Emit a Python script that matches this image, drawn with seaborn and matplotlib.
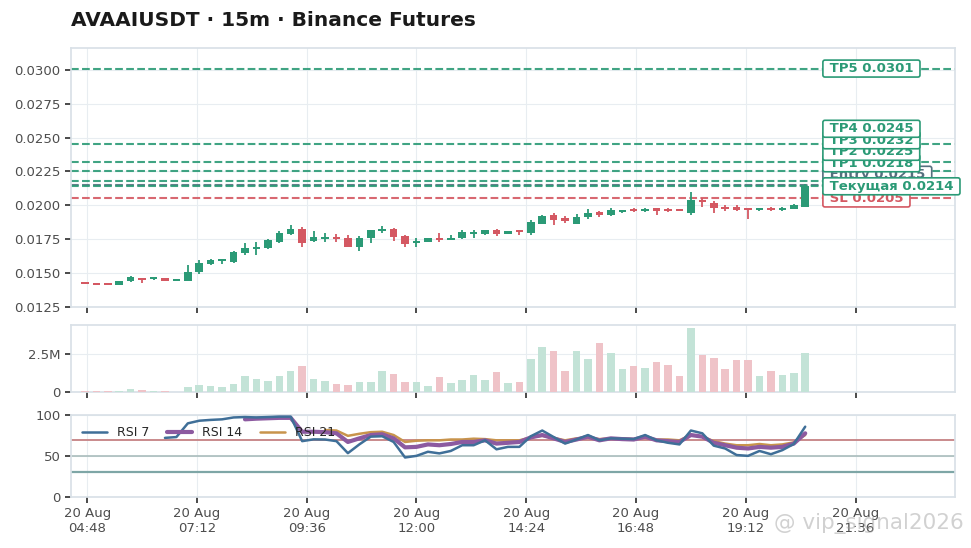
import numpy as np
import pandas as pd
import seaborn as sns
import matplotlib
matplotlib.use("Agg")
import matplotlib.pyplot as plt
import matplotlib.dates as mdates
from matplotlib.ticker import FixedLocator, FuncFormatter, MultipleLocator

# ---------------- data ----------------
symbol = "AVAAIUSDT"
timeframe = "15m"
exchange = "Binance Futures"
start_time = "2025-08-20 04:45"

opens = [0.01421, 0.01413, 0.01413, 0.01410, 0.01438, 0.01462, 0.01452, 0.01462,
         0.01442, 0.01443, 0.01510, 0.01564, 0.01590, 0.01583, 0.01649, 0.01676,
         0.01681, 0.01730, 0.01787, 0.01824, 0.01735, 0.01750, 0.01767, 0.01760,
         0.01694, 0.01755, 0.01811, 0.01824, 0.01774, 0.01718, 0.01730, 0.01760,
         0.01743, 0.01760, 0.01784, 0.01790, 0.01818, 0.01790, 0.01808, 0.01792,
         0.01865, 0.01926, 0.01902, 0.01865, 0.01914, 0.01950, 0.01926, 0.01952,
         0.01968, 0.01958, 0.01977, 0.01970, 0.01965, 0.01939, 0.02042, 0.02020,
         0.01988, 0.01985, 0.01975, 0.01962, 0.01978, 0.01968, 0.01975, 0.01988]
highs = [0.01423, 0.01414, 0.01414, 0.01442, 0.01480, 0.01465, 0.01458, 0.01464,
         0.01445, 0.01558, 0.01596, 0.01600, 0.01602, 0.01660, 0.01718, 0.01725,
         0.01750, 0.01809, 0.01853, 0.01841, 0.01809, 0.01792, 0.01790, 0.01779,
         0.01770, 0.01820, 0.01848, 0.01830, 0.01780, 0.01755, 0.01760, 0.01792,
         0.01780, 0.01816, 0.01820, 0.01820, 0.01822, 0.01812, 0.01810, 0.01890,
         0.01930, 0.01940, 0.01920, 0.01935, 0.01970, 0.01960, 0.01980, 0.01962,
         0.01980, 0.01978, 0.01980, 0.01980, 0.01968, 0.02098, 0.02050, 0.02030,
         0.02005, 0.02000, 0.01980, 0.01978, 0.01990, 0.01990, 0.02010, 0.02154]
lows = [0.01417, 0.01411, 0.01411, 0.01407, 0.01435, 0.01424, 0.01450, 0.01440,
        0.01440, 0.01440, 0.01493, 0.01555, 0.01566, 0.01575, 0.01632, 0.01632,
        0.01675, 0.01723, 0.01780, 0.01694, 0.01730, 0.01726, 0.01730, 0.01692,
        0.01662, 0.01718, 0.01792, 0.01735, 0.01689, 0.01694, 0.01725, 0.01730,
        0.01740, 0.01750, 0.01760, 0.01780, 0.01770, 0.01788, 0.01780, 0.01780,
        0.01860, 0.01853, 0.01870, 0.01860, 0.01900, 0.01910, 0.01920, 0.01945,
        0.01950, 0.01952, 0.01930, 0.01950, 0.01955, 0.01930, 0.01988, 0.01943,
        0.01955, 0.01955, 0.01900, 0.01955, 0.01955, 0.01955, 0.01970, 0.01985]
closes = [0.01418, 0.01412, 0.01412, 0.01440, 0.01472, 0.01445, 0.01456, 0.01443,
          0.01444, 0.01510, 0.01576, 0.01596, 0.01600, 0.01657, 0.01681, 0.01694,
          0.01743, 0.01796, 0.01821, 0.01718, 0.01762, 0.01767, 0.01750, 0.01694,
          0.01760, 0.01814, 0.01828, 0.01767, 0.01713, 0.01735, 0.01755, 0.01743,
          0.01760, 0.01799, 0.01799, 0.01814, 0.01790, 0.01810, 0.01800, 0.01873,
          0.01921, 0.01890, 0.01885, 0.01914, 0.01946, 0.01930, 0.01963, 0.01958,
          0.01960, 0.01975, 0.01958, 0.01960, 0.01960, 0.02037, 0.02024, 0.01980,
          0.01971, 0.01966, 0.01963, 0.01975, 0.01965, 0.01980, 0.02005, 0.02140]
volumes = [0.044, 0.044, 0.044, 0.066, 0.175, 0.11, 0.044, 0.044,
           0.01, 0.33, 0.44, 0.37, 0.285, 0.50, 1.03, 0.83,
           0.70, 1.03, 1.36, 1.69, 0.81, 0.70, 0.50, 0.44,
           0.635, 0.635, 1.36, 1.16, 0.635, 0.635, 0.37, 0.96,
           0.59, 0.77, 1.10, 0.77, 1.31, 0.59, 0.66, 2.15,
           2.96, 2.67, 1.38, 2.67, 2.15, 3.22, 2.54, 1.49,
           1.69, 1.55, 1.97, 1.77, 1.03, 4.20, 2.45, 2.21,
           1.51, 2.08, 2.08, 1.03, 1.36, 1.10, 1.23, 2.56]  # millions

nan = np.nan
rsi7 = [nan] * 7 + [72, 73, 89.8, 93, 94, 94.7, 97, 97.5, 97, 97.5, 98, 98, 68,
                    70.2, 70, 68, 53.3, 64, 73.5, 74, 67, 48, 50, 55, 53, 56, 63,
                    63, 69, 58, 61, 61, 74, 81, 73, 65, 70, 75.5, 69, 71.4, 71,
                    70.5, 75.5, 69, 66, 64, 81, 77.6, 62.5, 59, 51, 50, 56, 52,
                    57, 64.5, 85.7]
rsi14 = [nan] * 14 + [94.7, 95.5, 96, 96.5, 96.5, 79.5, 79.5, 79, 77.6, 67, 71.4,
                      75.5, 76.4, 71.4, 60.4, 61, 64, 63, 64.5, 67, 67, 69, 65,
                      66, 67, 72.6, 75.5, 71.4, 67, 70, 73.5, 69, 71.4, 70.5, 70,
                      73.5, 69, 68, 67, 75.5, 73.5, 66, 63, 60, 59, 61, 60, 61,
                      65, 77.6]
rsi21 = [nan] * 21 + [81.6, 81, 74.5, 77, 79, 79.5, 75.5, 67, 68.5, 69, 69, 70,
                      70, 71, 70.5, 69, 69, 69, 72.6, 74.5, 72, 69, 71.4, 72.6,
                      70.5, 71.4, 71.4, 70.5, 72.6, 70, 70, 69, 75.5, 73.5, 68,
                      65, 63, 63, 64.5, 63, 64, 66.5, 75.5]

level_names = ["SL", "Entry", "TP1", "TP2", "TP3", "TP4", "TP5"]
level_values = [0.0205, 0.0215, 0.0218, 0.0225, 0.0232, 0.0245, 0.0301]
current_label = "Текущая"
current_price = 0.0214

tick_times = pd.date_range("2025-08-20 04:48", periods=8, freq="144min")

# ---------------- style ----------------
GREEN = "#2b9a76"
RED = "#d45862"
SLATE = "#55707e"
sns.set_theme(style="whitegrid", rc={
    "axes.edgecolor": "#d9e1e7",
    "grid.color": "#e8edf1",
    "grid.linewidth": 0.8,
    "xtick.bottom": True,
    "ytick.left": True,
    "xtick.color": "#333333",
    "ytick.color": "#333333",
    "xtick.labelcolor": "#4d4d4d",
    "ytick.labelcolor": "#4d4d4d",
    "xtick.labelsize": 9.5,
    "ytick.labelsize": 9.5,
    "xtick.major.size": 4,
    "ytick.major.size": 4,
})
plt.rcParams["font.family"] = ["DejaVu Sans"]

times = pd.date_range(start_time, periods=len(closes), freq="15min")
x = mdates.date2num(times.to_pydatetime())
bar = 1 / 96  # 15 minutes in days
o, h, l, c = map(np.array, (opens, highs, lows, closes))
up = c >= o
colors = np.where(up, GREEN, RED)

fig = plt.figure(figsize=(9.71, 5.48), dpi=100)
ax_p = fig.add_axes([0.0731, 0.4398, 0.9104, 0.4726])
ax_v = fig.add_axes([0.0731, 0.2852, 0.9104, 0.1217], sharex=ax_p)
ax_r = fig.add_axes([0.0731, 0.0936, 0.9104, 0.1491], sharex=ax_p)

# ---- price panel ----
ax_p.vlines(x, l, h, color=colors, lw=1.3, zorder=3)
body = np.maximum(np.abs(c - o), 0.00014)
ax_p.bar(x, body, bottom=np.minimum(o, c), width=bar * 0.66, color=colors,
         linewidth=0, zorder=4)

line_colors = {"SL": RED, "Entry": SLATE}
for name, val in zip(level_names, level_values):
    ax_p.axhline(val, color=line_colors.get(name, GREEN), ls="--", lw=1.5, alpha=0.9, zorder=2)
ax_p.axhline(current_price, color=GREEN, ls="--", lw=1.5, alpha=0.9, zorder=2)

# stack labels so they do not sit exactly on top of each other
items = [(v, n) for n, v in zip(level_names, level_values)] + [(current_price, current_label)]
gap = 0.00085
label_y = {}
prev = -1
for v, n in sorted(items):
    y = max(v, prev + gap)
    label_y[n] = y
    prev = y

lab_x = x[-1] + 1.72 * bar
text_colors = {"SL": RED, "Entry": SLATE}
for i, (name, val) in enumerate(zip(level_names, level_values)):
    col = text_colors.get(name, GREEN)
    ax_p.text(lab_x, label_y[name], f" {name} {val:.4f} ", color=col, fontsize=9.5,
              fontweight="bold", va="center", ha="left", zorder=10 + i, clip_on=False,
              bbox=dict(boxstyle="round,pad=0.15", fc="white", ec=col, lw=1.2))
ax_p.text(lab_x, label_y[current_label], f" {current_label} {current_price:.4f} ",
          color=GREEN, fontsize=9.5, fontweight="bold", va="center", ha="left",
          zorder=30, clip_on=False,
          bbox=dict(boxstyle="round,pad=0.15", fc="white", ec=GREEN, lw=1.2))

ax_p.set_ylim(0.01248, 0.03162)
ax_p.yaxis.set_major_locator(MultipleLocator(0.0025))
ax_p.yaxis.set_major_formatter(FuncFormatter(lambda v, p: f"{v:.4f}"))
ax_p.set_xlim(x[0] - 1.22 * bar, x[0] + 76.1 * bar)

# ---- volume panel ----
vol = np.array(volumes) * 1e6
vol_colors = np.where(up, "#c3e3d7", "#efc3c8")
ax_v.bar(x, vol, width=bar * 0.66, color=vol_colors, linewidth=0, zorder=3)
ax_v.set_ylim(0, vol.max() * 1.05)
ax_v.yaxis.set_major_locator(MultipleLocator(2.5e6))
ax_v.yaxis.set_major_formatter(FuncFormatter(lambda v, p: "0" if v == 0 else f"{v / 1e6:.1f}M"))

# ---- RSI panel ----
ax_r.axhline(70, color="#c98a8c", lw=1.4, zorder=2)
ax_r.axhline(50, color="#a9bcbc", lw=1.2, zorder=2)
ax_r.axhline(30, color="#7ea6a6", lw=1.6, zorder=2)
sns.lineplot(x=x, y=rsi7, ax=ax_r, color="#3f6f98", lw=1.8, label="RSI 7", zorder=5)
sns.lineplot(x=x, y=rsi14, ax=ax_r, color="#8c5aa0", lw=3.0, label="RSI 14", zorder=4)
sns.lineplot(x=x, y=rsi21, ax=ax_r, color="#c8944c", lw=1.8, label="RSI 21", zorder=3)
ax_r.set_ylim(0, 100)
ax_r.set_yticks([0, 50, 100])
ax_r.legend(loc="upper left", ncol=3, frameon=False, fontsize=9, columnspacing=1.4)

for ax in (ax_p, ax_v, ax_r):
    ax.xaxis.set_major_locator(FixedLocator(mdates.date2num(tick_times.to_pydatetime())))
    ax.set_xlabel("")
    ax.set_ylabel("")
ax_r.xaxis.set_major_formatter(mdates.DateFormatter("%d %b\n%H:%M"))
ax_p.tick_params(axis="x", labelbottom=False)
ax_v.tick_params(axis="x", labelbottom=False)

fig.text(0.0735, 0.9635, f"{symbol} · {timeframe} · {exchange}", fontsize=14.5,
         fontweight="bold", va="center", ha="left", color="#1a1a1a")
fig.text(0.993, 0.045, "@ vip_signal2026", fontsize=15.5, color="#9a9a9a", alpha=0.45,
         ha="right", va="center")

fig.savefig("out.png", dpi=100)
